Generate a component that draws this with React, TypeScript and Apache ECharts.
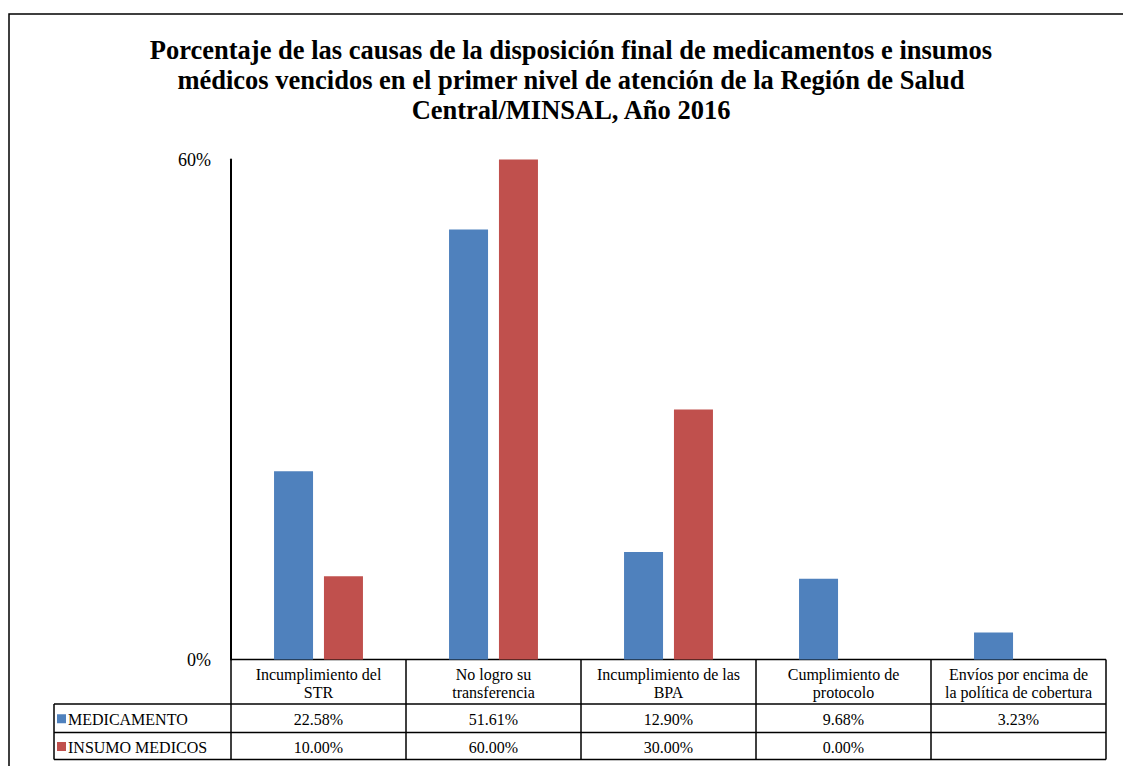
import React, { useEffect, useRef } from "react";
import * as echarts from "echarts";

const categories = [
  "Incumplimiento del\nSTR",
  "No logro su\ntransferencia",
  "Incumplimiento de las\nBPA",
  "Cumplimiento de\nprotocolo",
  "Envíos por encima de\nla política de cobertura",
];
const seriesNames = ["MEDICAMENTO", "INSUMO MEDICOS"];
const medicamento = [22.58, 51.61, 12.9, 9.68, 3.23];
const insumo: (number | null)[] = [10.0, 60.0, 30.0, 0.0, null];
const colors = ["#4F81BD", "#C0504D"];
const yTicks = [0, 60];
const titleText =
  "Porcentaje de las causas de la disposición final de medicamentos e insumos\nmédicos vencidos en el primer nivel de atención de la Región de Salud\nCentral/MINSAL, Año 2016";

const FONT = "Liberation Serif";

export default function App() {
  const ref = useRef<HTMLDivElement>(null);
  useEffect(() => {
    const chart = echarts.init(ref.current!, null, { renderer: "svg" });
    const gridL = 231, gridR = 1106, gridT = 159.5, gridB = 659.5;
    const colW = (gridR - gridL) / categories.length;
    const row1 = 704, row2 = 732.5, row3 = 759.5;
    const tableL = 54;
    const lineStyle = { stroke: "#000", lineWidth: 1.5 };
    const txt = (size: number, extra: any = {}) => ({
      fontFamily: FONT,
      fontSize: size,
      fill: "#000",
      ...extra,
    });
    const graphics: any[] = [];
    graphics.push({
      type: "rect",
      shape: { x: 9, y: 14, width: 1140, height: 780 },
      style: { fill: "none", stroke: "#000", lineWidth: 1.5 },
      silent: true,
    });
    graphics.push({
      type: "text",
      x: 571,
      y: 35,
      style: txt(26.5, {
        text: titleText,
        fontWeight: "bold",
        align: "center",
        verticalAlign: "top",
        lineHeight: 30,
      }),
    });
    graphics.push({ type: "line", shape: { x1: gridL, y1: gridB, x2: gridR, y2: gridB }, style: lineStyle });
    graphics.push({ type: "line", shape: { x1: tableL, y1: row1, x2: gridR, y2: row1 }, style: lineStyle });
    graphics.push({ type: "line", shape: { x1: tableL, y1: row2, x2: gridR, y2: row2 }, style: lineStyle });
    graphics.push({ type: "line", shape: { x1: tableL, y1: row3, x2: gridR, y2: row3 }, style: lineStyle });
    graphics.push({ type: "line", shape: { x1: tableL, y1: row1, x2: tableL, y2: row3 }, style: lineStyle });
    for (let i = 0; i <= categories.length; i++) {
      const x = gridL + i * colW;
      graphics.push({ type: "line", shape: { x1: x, y1: gridB, x2: x, y2: row3 }, style: lineStyle });
    }
    const fmt = (v: number | null) => (v === null || v === undefined ? "" : v.toFixed(2) + "%");
    categories.forEach((c, i) => {
      const cx = gridL + (i + 0.5) * colW;
      graphics.push({
        type: "text",
        x: cx,
        y: (gridB + row1) / 2 + 1.5,
        style: txt(16, { text: c, align: "center", verticalAlign: "middle", lineHeight: 17.5 }),
      });
      graphics.push({
        type: "text",
        x: cx,
        y: (row1 + row2) / 2 + 1,
        style: txt(16, { text: fmt(medicamento[i]), align: "center", verticalAlign: "middle" }),
      });
      graphics.push({
        type: "text",
        x: cx,
        y: (row2 + row3) / 2 + 1,
        style: txt(16, { text: fmt(insumo[i]), align: "center", verticalAlign: "middle" }),
      });
    });
    [row1, row2].forEach((ry, k) => {
      const cy = (ry + (k === 0 ? row2 : row3)) / 2 + 0.5;
      graphics.push({ type: "rect", shape: { x: 57, y: cy - 4.5, width: 9, height: 9 }, style: { fill: colors[k] } });
      graphics.push({
        type: "text",
        x: 68,
        y: cy + 0.5,
        style: txt(16, { text: seriesNames[k], align: "left", verticalAlign: "middle" }),
      });
    });

    chart.setOption({
      animation: false,
      backgroundColor: "#fff",
      textStyle: { fontFamily: FONT },
      grid: {
        left: gridL,
        right: 1123 - gridR,
        top: gridT,
        bottom: 766 - gridB,
        containLabel: false,
        outerBoundsMode: "none",
      },
      xAxis: {
        type: "category",
        data: categories,
        axisLine: { show: false },
        axisTick: { show: false },
        axisLabel: { show: false },
      },
      yAxis: {
        type: "value",
        min: yTicks[0],
        max: yTicks[yTicks.length - 1],
        interval: yTicks[1] - yTicks[0],
        axisLine: { show: true, lineStyle: { color: "#000", width: 2 } },
        axisTick: { show: false },
        splitLine: { show: false },
        axisLabel: {
          formatter: "{value}%",
          color: "#000",
          fontFamily: FONT,
          fontSize: 18,
          margin: 20,
        },
      },
      series: [
        {
          name: seriesNames[0],
          type: "bar",
          data: medicamento,
          barWidth: 39,
          barGap: "28%",
          itemStyle: { color: colors[0] },
        },
        {
          name: seriesNames[1],
          type: "bar",
          data: insumo,
          barWidth: 39,
          barGap: "28%",
          itemStyle: { color: colors[1] },
        },
      ],
      graphic: graphics,
    });
    return () => chart.dispose();
  }, []);
  return (
    <div
      ref={ref}
      style={{ position: "fixed", left: 0, top: 0, width: 1123, height: 766, background: "#fff" }}
    />
  );
}
